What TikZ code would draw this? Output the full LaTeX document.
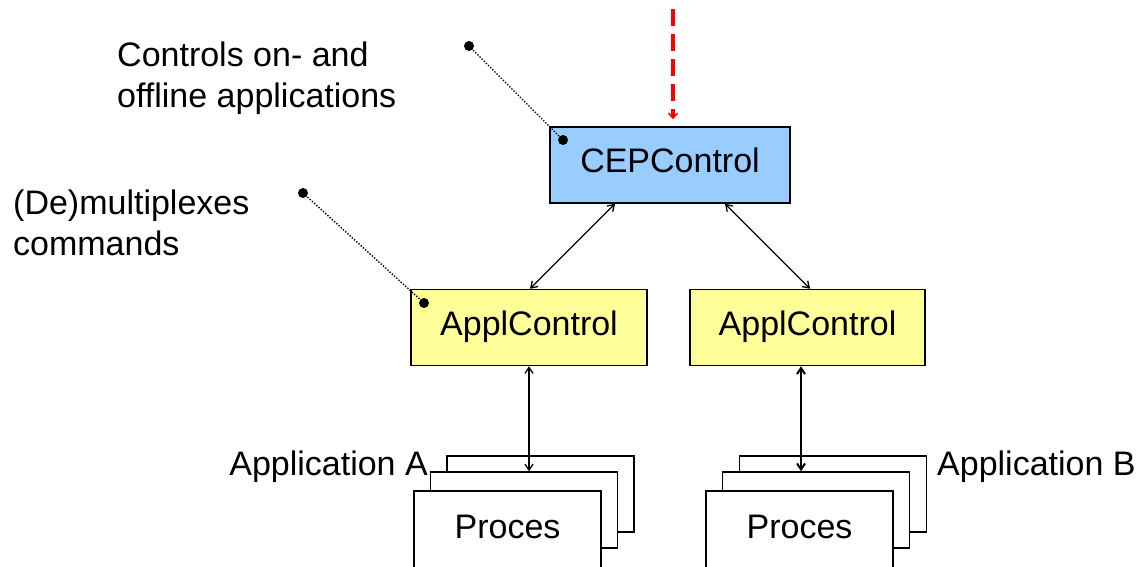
\documentclass[tikz,border=0pt]{standalone}
\usepackage{fontspec}
\setmainfont{Liberation Sans}
\usetikzlibrary{arrows.meta}
\definecolor{cepblue}{HTML}{99CCFF}
\definecolor{applyellow}{HTML}{FFFF99}
\tikzset{
  box/.style={draw=black, line width=1.5pt, minimum width=240pt, minimum height=76pt,
    inner sep=0pt, text height=25pt, text depth=10pt, font=\fontsize{34}{41}\selectfont},
  cepbox/.style={box, fill=cepblue},
  applbox/.style={box, fill=applyellow, minimum width=236pt},
  procbox/.style={box, fill=white, minimum width=187pt},
  lbl/.style={inner sep=0pt, align=left, font=\fontsize{34}{41}\selectfont},
  link/.style={line width=1.3pt, {Straight Barb[length=6pt,width=8pt]}-{Straight Barb[length=6pt,width=8pt]}},
  callout/.style={line width=1.4pt, dash pattern=on 1.4pt off 1.6pt},
  calldot/.style={circle, fill=black, inner sep=0pt, minimum size=10pt},
  redarrow/.style={red, line width=3.5pt, dash pattern=on 17pt off 8pt,
    -{Straight Barb[length=5pt,width=9pt,line width=1.5pt]}}
}
\begin{document}
\begin{tikzpicture}[x=1pt,y=-1pt]
\useasboundingbox (0,0) rectangle (1140,566);
% boxes
\node[cepbox] (cep) at (670,165) {CEPControl};
\node[applbox] (al) at (529,327.5) {ApplControl};
\node[applbox, minimum width=235pt] (ar) at (807.5,327.5) {ApplControl};
% process stacks A
\node[procbox] (backA) at (540.5,494) {};
\node[procbox] (midA) at (524,510) {};
\node[procbox, minimum height=80pt] (frontA) at (507.5,531) {Proces};
% process stacks B
\node[procbox] (backB) at (833,494) {};
\node[procbox] (midB) at (816,510) {};
\node[procbox, minimum height=80pt] (frontB) at (799.5,531) {Proces};
% labels
\node[lbl, anchor=base west] (lblctl) at (117,107) {Controls on- and\\offline applications};
\node[lbl, anchor=base west] (lblmux) at (13,255) {(De)multiplexes\\commands};
\node[lbl, anchor=base east] (lblA) at (428,475) {Application A};
\node[lbl, anchor=base west] (lblB) at (937,475) {Application B};
% callouts
\node[calldot] (d1a) at (469,46) {};
\node[calldot] (d1b) at (563,140) {};
\node[calldot] (d2a) at (303,193) {};
\node[calldot] (d2b) at (424,303) {};
\draw[callout] (d1a.center) -- (d1b.center);
\draw[callout] (d2a.center) -- (d2b.center);
% connectors
\draw[link] ([xshift=-55pt]cep.south) -- ([xshift=1pt]al.north);
\draw[link] ([xshift=55pt]cep.south) -- ([xshift=2.5pt]ar.north);
\draw[link] (al.south) -- (al.south |- midA.north);
\draw[link, line width=2pt] ([xshift=-6.5pt]ar.south) -- ([xshift=-6.5pt]ar.south |- midB.north);
% red dashed incoming arrow
\coordinate (redtop) at (673,9);
\draw[redarrow, shorten >=7pt] (redtop) -- (redtop |- cep.north);
\end{tikzpicture}
\end{document}
